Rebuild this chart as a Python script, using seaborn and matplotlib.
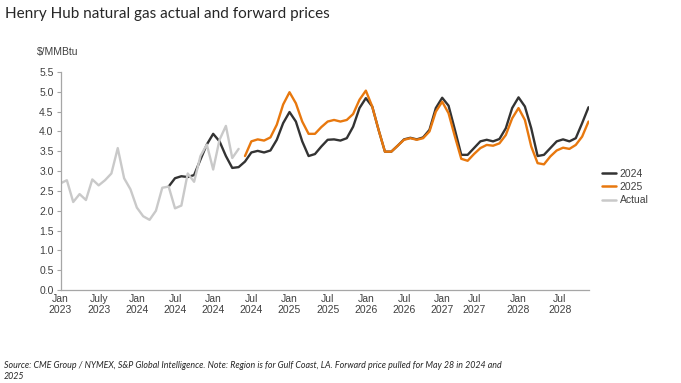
import numpy as np
import pandas as pd
import matplotlib
matplotlib.use("Agg")
import matplotlib.pyplot as plt
import seaborn as sns

# Month index 0 = Jan 2023 ... 83 = Dec 2029
actual = [2.69, 2.77, 2.22, 2.42, 2.27, 2.79, 2.64, 2.77, 2.94, 3.58,
          2.82, 2.54, 2.08, 1.86, 1.77, 2.00, 2.58, 2.61, 2.06, 2.13,
          2.94, 2.73, 3.38, 3.67, 3.04, 3.79, 4.14, 3.33, 3.56]
actual_start = 0

fwd_2024 = [2.61, 2.82, 2.87, 2.85, 2.90, 3.29, 3.67, 3.94, 3.75, 3.38,
            3.08, 3.10, 3.24, 3.47, 3.51, 3.47, 3.52, 3.79, 4.21, 4.49,
            4.25, 3.75, 3.38, 3.43, 3.62, 3.79, 3.80, 3.77, 3.83, 4.12,
            4.59, 4.84, 4.63, 4.04, 3.49, 3.49, 3.64, 3.80, 3.84, 3.80,
            3.85, 4.04, 4.59, 4.85, 4.65, 4.04, 3.41, 3.41, 3.58, 3.75,
            3.79, 3.75, 3.81, 4.08, 4.59, 4.86, 4.63, 4.08, 3.38, 3.41,
            3.58, 3.75, 3.80, 3.75, 3.83, 4.21, 4.61]
fwd_2024_start = 17

fwd_2025 = [3.38, 3.75, 3.80, 3.77, 3.85, 4.17, 4.68, 4.99, 4.71, 4.25,
            3.94, 3.94, 4.11, 4.25, 4.29, 4.25, 4.29, 4.44, 4.80, 5.03,
            4.63, 4.04, 3.49, 3.49, 3.64, 3.79, 3.83, 3.79, 3.83, 4.00,
            4.50, 4.75, 4.46, 3.87, 3.31, 3.26, 3.43, 3.58, 3.66, 3.64,
            3.70, 3.91, 4.33, 4.59, 4.29, 3.62, 3.20, 3.17, 3.37, 3.52,
            3.59, 3.56, 3.66, 3.87, 4.25]
fwd_2025_start = 29

tick_pos = [0, 6, 12, 18, 24, 30, 36, 42, 48, 54, 60, 65, 72, 78.5]
tick_labels = ["Jan\n2023", "July\n2023", "Jan\n2024", "Jul\n2024", "Jan\n2024",
               "Jul\n2024", "Jan\n2025", "Jul\n2025", "Jan\n2026", "Jul\n2026",
               "Jan\n2027", "Jul\n2027", "Jan\n2028", "Jul\n2028"]
y_ticks = [0.0, 0.5, 1.0, 1.5, 2.0, 2.5, 3.0, 3.5, 4.0, 4.5, 5.0, 5.5]

sns.set_theme(style="white")
plt.rcParams['font.family'] = ['Liberation Sans', 'DejaVu Sans']

def frame(vals, start, name):
    return pd.DataFrame({"month": np.arange(start, start + len(vals)),
                         "price": vals, "series": name})

df = pd.concat([frame(fwd_2024, fwd_2024_start, "2024"),
                frame(fwd_2025, fwd_2025_start, "2025"),
                frame(actual, actual_start, "Actual")], ignore_index=True)

palette = {"2024": "#333333", "2025": "#E8780E", "Actual": "#C9C9C9"}

fig = plt.figure(figsize=(6.81, 3.83), dpi=100)
ax = fig.add_axes([60.5 / 681, 1 - 290 / 383, (588.5 - 60.5) / 681, (290 - 72) / 383])

sns.lineplot(data=df, x="month", y="price", hue="series", palette=palette,
             hue_order=["2024", "2025", "Actual"], linewidth=1.7, ax=ax,
             legend=True)

ax.set_xlim(0, 83)
ax.set_ylim(0, 5.5)
ax.set_yticks(y_ticks)
ax.set_yticklabels([f"{v:.1f}" for v in y_ticks])
ax.set_xticks(tick_pos)
ax.set_xticklabels(tick_labels)
ax.set_xlabel("")
ax.set_ylabel("")
for s in ["top", "right"]:
    ax.spines[s].set_visible(False)
for s in ["left", "bottom"]:
    ax.spines[s].set_color("#A6A6A6")
    ax.spines[s].set_linewidth(0.9)
ax.tick_params(axis="y", length=3, width=0.8, color="#A6A6A6", labelsize=7.5,
               labelcolor="#404040", pad=2, left=True)
ax.tick_params(axis="x", length=0, labelsize=7.5, labelcolor="#404040", pad=3)
for t in ax.get_xticklabels():
    t.set_linespacing(1.05)

leg = ax.legend(loc="upper left", bbox_to_anchor=(602 / 681, 1 - 169 / 383),
                bbox_transform=fig.transFigure, frameon=False, fontsize=7.5,
                handlelength=1.3, handletextpad=0.4, labelspacing=0.3,
                borderaxespad=0, borderpad=0)
for line in leg.get_lines():
    line.set_linewidth(1.8)
for t in leg.get_texts():
    t.set_color("#404040")

fig.text(37 / 681, 1 - 52 / 383, "$/MMBtu", fontsize=7.5, color="#404040",
         ha="left", va="center")
fig.text(5 / 681, 1 - 14 / 383, "Henry Hub natural gas actual and forward prices",
         fontsize=11, color="#262626", ha="left", va="center",
         family=['Lato', 'DejaVu Sans'])
fig.text(4 / 681, 1 - 371 / 383,
         "Source: CME Group / NYMEX, S&P Global Intelligence. Note: Region is for Gulf Coast, LA. "
         "Forward price pulled for May 28 in 2024 and\n2025",
         fontsize=6.4, style="italic", color="#262626", ha="left", va="center",
         linespacing=1.35, family=['Lato', 'DejaVu Sans'])

fig.savefig("out.png", dpi=100)
